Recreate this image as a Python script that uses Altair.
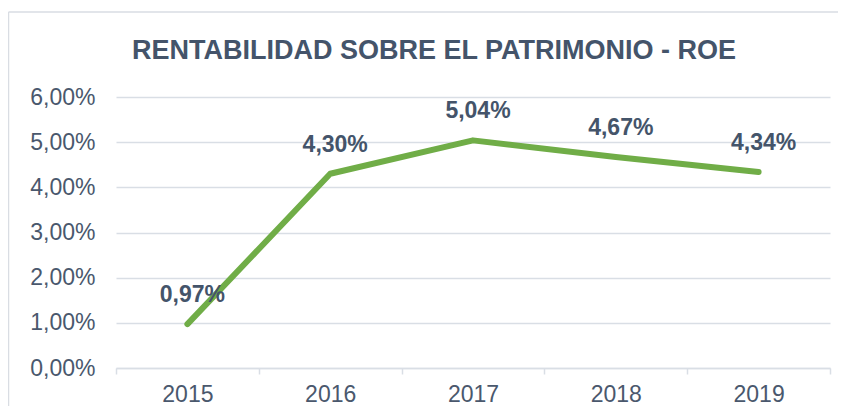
import altair as alt
import pandas as pd

years = ["2015", "2016", "2017", "2018", "2019"]
roe = [0.97, 4.30, 5.04, 4.67, 4.34]
labels = [f"{v:.2f}%".replace(".", ",") for v in roe]
title_text = ["RENTABILIDAD SOBRE EL PATRIMONIO - ROE"]

df = pd.DataFrame({"year": years, "roe": roe, "label": labels})

FONT = "Liberation Sans"
DARK = "#44546A"
GRID = "#D9DEE5"
FRAME = "#D9DDE3"

x_enc = alt.X("year:N", bandPosition=0.5,
              scale=alt.Scale(type="band", paddingInner=0, paddingOuter=0),
              axis=alt.Axis(title=None, labelAngle=0, domain=True, domainColor=GRID,
                            domainWidth=1.5, ticks=True, tickColor=GRID, tickWidth=1.5,
                            tickSize=6, tickBand="extent", grid=False,
                            labelFont=FONT, labelFontSize=23, labelColor="#4A586D",
                            labelPadding=9))
y_enc = alt.Y("roe:Q",
              scale=alt.Scale(domain=[0, 6], nice=False),
              axis=alt.Axis(title=None, values=[0, 1, 2, 3, 4, 5, 6],
                            labelExpr="replace(format(datum.value, '.2f'), '.', ',') + '%'",
                            domain=False, ticks=False, grid=True, gridColor=GRID,
                            gridWidth=1.5, labelFont=FONT, labelFontSize=23,
                            labelColor="#4A586D", labelPadding=21))

one = pd.DataFrame({"a": [0]})
frame_top = alt.Chart(one).mark_rule(color=FRAME, strokeWidth=1.5).encode(
    x=alt.value(-107.5), x2=alt.value(760), y=alt.value(-85))
frame_left = alt.Chart(one).mark_rule(color=FRAME, strokeWidth=1.5).encode(
    x=alt.value(-107.5), y=alt.value(-85), y2=alt.value(330))

title = alt.Chart(pd.DataFrame({"t": title_text})).mark_text(
    font=FONT, fontSize=27, fontWeight="bold", color=DARK,
    align="center", baseline="alphabetic"
).encode(x=alt.value(318), y=alt.value(-38.5), text="t:N")

line = alt.Chart(df).mark_line(color="#70AD47", strokeWidth=6, strokeCap="round",
                               strokeJoin="round").encode(x=x_enc, y=y_enc)

text = alt.Chart(df).mark_text(font=FONT, fontSize=23, fontWeight="bold", color=DARK,
                               dy=-29, dx=5).encode(
    x=alt.X("year:N", bandPosition=0.5), y="roe:Q", text="label:N")

chart = alt.layer(frame_top, frame_left, title, line, text).properties(
    width=714, height=271,
    padding={"left": 108, "top": 89, "right": 8, "bottom": 38},
    autosize=alt.AutoSizeParams(type="none"),
).configure_view(stroke=None)

chart.save("out.html", embed_options={"renderer": "svg", "actions": False})
